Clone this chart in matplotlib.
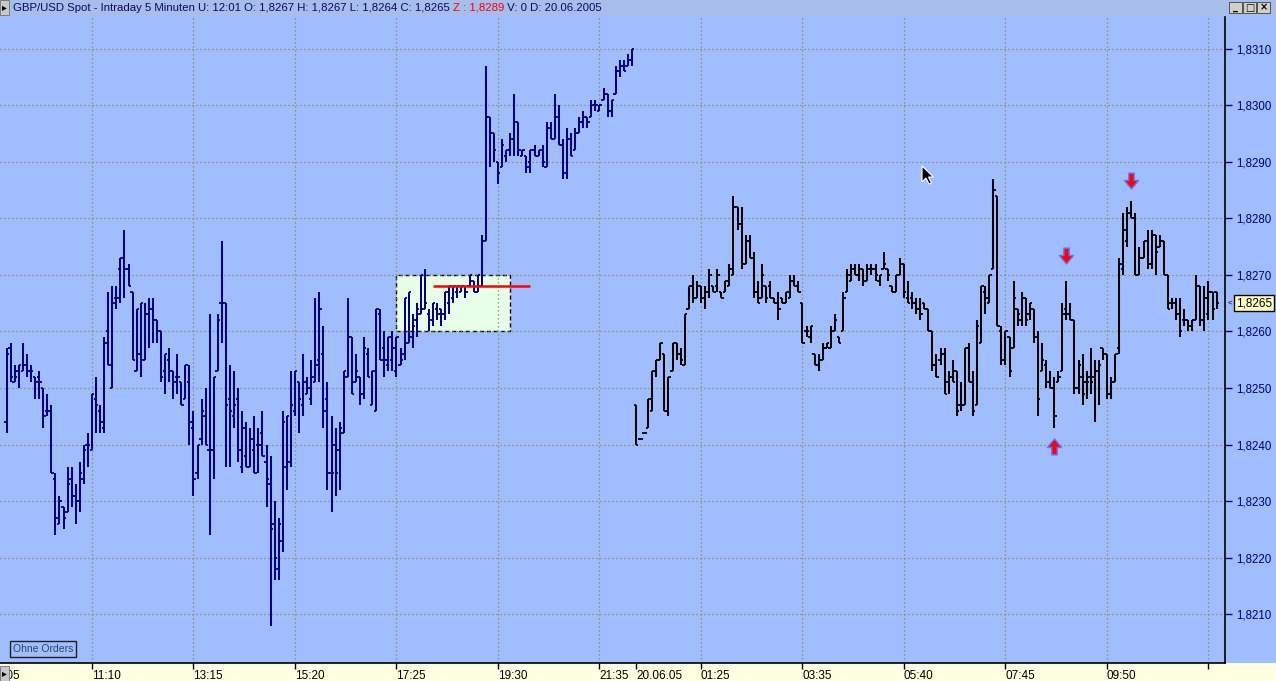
import numpy as np
import matplotlib
matplotlib.use("Agg")
import matplotlib.pyplot as plt
import matplotlib.transforms as mtransforms
from matplotlib.patches import Rectangle, Polygon
from matplotlib.path import Path

plt.rcParams['font.family'] = ['Liberation Sans', 'DejaVu Sans']

# prices are kept in pips above 1,8200
BASE = 1.8200
PIP = 0.0001

# Friday session (blue bars), 5 minute bars from 09:25
blue_high = [57, 58, 54, 54, 58, 56, 54, 52, 53, 50,
             49, 47, 35, 31, 29, 36, 36, 33, 37, 40,
             42, 49, 52, 47, 59, 67, 68, 68, 73, 78,
             72, 67, 64, 65, 65, 66, 66, 62, 60, 56,
             57, 53, 56, 51, 54, 54, 46, 40, 48, 50,
             63, 52, 63, 76, 65, 54, 53, 50, 46, 44,
             43, 45, 43, 46, 40, 38, 30, 27, 46, 45,
             53, 53, 51, 56, 52, 55, 66, 67, 61, 51,
             45, 43, 44, 53, 66, 59, 56, 52, 59, 57,
             53, 64, 64, 60, 59, 60, 59, 57, 66, 67,
             63, 65, 70, 71, 64, 65, 65, 64, 67, 68,
             68, 68, 68, 68, 70, 69, 70, 77, 107, 98,
             95, 90, 94, 92, 95, 102, 97, 92, 91, 92,
             93, 92, 93, 97, 97, 102, 100, 94, 96, 95,
             96, 98, 99, 98, 101, 101, 100, 103, 102, 101,
             107, 108, 108, 109, 110]
blue_low = [42, 51, 51, 50, 53, 52, 51, 48, 48, 43,
            45, 35, 24, 26, 25, 28, 29, 26, 28, 33,
            36, 39, 42, 42, 42, 54, 50, 64, 65, 66,
            68, 55, 53, 52, 55, 57, 58, 58, 51, 49,
            51, 48, 49, 47, 48, 40, 31, 34, 40, 40,
            24, 34, 53, 58, 36, 36, 43, 37, 35, 36,
            36, 35, 35, 38, 29, 8, 16, 16, 21, 32,
            36, 45, 42, 45, 49, 47, 51, 51, 43, 32,
            28, 31, 32, 42, 52, 49, 51, 47, 48, 52,
            47, 46, 55, 52, 53, 53, 52, 54, 55, 58,
            57, 59, 63, 64, 60, 61, 62, 61, 62, 63,
            65, 66, 67, 66, 68, 67, 67, 68, 76, 89,
            90, 86, 89, 90, 91, 91, 91, 91, 88, 88,
            91, 91, 89, 89, 94, 94, 93, 87, 87, 91,
            92, 95, 96, 96, 98, 99, 99, 101, 98, 98,
            102, 105, 106, 107, 107]
blue_open = [44, 57, 51, 53, 53, 54, 53, 52, 52, 50,
             46, 46, 34, 26, 29, 28, 34, 31, 30, 34,
             40, 39, 48, 46, 43, 60, 50, 66, 71, 73,
             71, 67, 53, 56, 55, 63, 64, 62, 60, 53,
             55, 53, 52, 51, 48, 51, 43, 35, 41, 45,
             39, 39, 53, 65, 65, 48, 45, 48, 36, 38,
             36, 39, 40, 42, 37, 33, 26, 18, 23, 36,
             37, 46, 51, 47, 49, 48, 51, 55, 56, 48,
             35, 40, 39, 42, 52, 59, 51, 52, 49, 56,
             47, 46, 63, 57, 54, 55, 53, 54, 56, 58,
             59, 62, 63, 64, 63, 62, 64, 64, 63, 65,
             66, 67, 67, 68, 68, 69, 67, 68, 76, 98,
             95, 90, 89, 91, 92, 94, 97, 91, 91, 90,
             92, 91, 92, 89, 96, 94, 98, 93, 88, 94,
             92, 95, 97, 98, 98, 100, 99, 101, 102, 99,
             102, 106, 107, 107, 108]
blue_close = [56, 52, 52, 54, 54, 53, 53, 51, 51, 45,
              46, 35, 27, 30, 27, 33, 31, 30, 35, 39,
              40, 49, 47, 44, 58, 54, 65, 66, 73, 71,
              68, 55, 64, 65, 63, 64, 62, 60, 52, 56,
              53, 51, 52, 47, 54, 44, 34, 40, 46, 40,
              39, 52, 62, 65, 47, 46, 47, 39, 43, 36,
              41, 35, 40, 38, 34, 25, 20, 26, 44, 45,
              47, 53, 48, 51, 50, 52, 54, 64, 46, 35,
              35, 35, 43, 53, 59, 49, 53, 49, 57, 52,
              53, 64, 55, 55, 59, 57, 59, 55, 66, 67,
              61, 64, 70, 65, 62, 65, 63, 63, 67, 68,
              68, 68, 68, 67, 70, 67, 70, 76, 98, 95,
              92, 88, 93, 92, 94, 97, 92, 92, 89, 92,
              91, 92, 90, 96, 94, 98, 93, 88, 94, 91,
              95, 97, 98, 97, 100, 100, 100, 102, 99, 101,
              106, 107, 106, 108, 110]

# Monday 20.06.2005 (black bars), from 00:05 to 12:00
black_high = [47, 41, 42, 48, 53, 55, 58, 56, 52, 58,
              58, 57, 63, 68, 70, 69, 68, 68, 71, 68,
              71, 67, 69, 72, 84, 82, 82, 77, 77, 74,
              69, 72, 68, 69, 66, 67, 66, 67,
              70, 70, 69, 65, 61, 61, 56, 56, 58, 58,
              61, 63, 59, 67, 71, 72, 72, 72, 71, 72,
              72, 72, 70, 74, 71, 68, 70, 73, 72, 69,
              67, 66, 66, 65, 64,
              60, 56, 57, 57, 53, 55, 53, 51, 57, 58,
              53, 62, 68, 68, 70, 87, 84, 61, 60, 59,
              69, 64, 67, 66, 65, 64, 60, 58, 55, 53,
              52, 53, 65, 69, 65, 62, 55, 56, 53, 57,
              55, 55, 57, 56, 52, 56, 73, 81, 82, 83,
              81, 75, 76, 78, 78, 77, 77, 76, 70, 66,
              66, 66, 64, 62, 62, 70, 68, 68, 69, 67, 67]
black_low = [40, 41, 42, 43, 46, 52, 55, 46, 45, 53,
             55, 54, 54, 64, 65, 66, 65, 64, 66, 67,
             67, 66, 67, 68, 70, 78, 71, 72, 73, 66,
             65, 66, 65, 66, 65, 62, 65, 65,
             66, 68, 67, 58, 59, 58, 54, 53, 55, 57,
             57, 60, 58, 60, 67, 69, 70, 69, 68, 69,
             70, 69, 68, 71, 69, 67, 67, 70, 66, 65,
             64, 63, 62, 64, 60,
             53, 52, 54, 49, 49, 51, 45, 46, 47, 51,
             45, 47, 58, 63, 65, 71, 61, 54, 54, 52,
             57, 61, 61, 61, 62, 58, 45, 53, 50, 50,
             43, 51, 53, 62, 62, 49, 49, 47, 48, 49,
             44, 47, 55, 48, 48, 51, 56, 70, 75, 80,
             70, 70, 73, 71, 71, 70, 75, 70, 64, 64,
             62, 59, 61, 60, 60, 62, 61, 60, 62, 62, 64]
black_open = [47, 41, 42, 43, 46, 53, 55, 56, 46, 53,
              58, 56, 54, 64, 68, 66, 68, 66, 67, 68,
              68, 67, 67, 68, 70, 82, 79, 72, 76, 73,
              67, 66, 68, 68, 66, 65, 66, 65,
              66, 69, 68, 65, 60, 59, 56, 54, 55, 57,
              57, 60, 59, 60, 67, 69, 71, 70, 71, 69,
              71, 71, 69, 71, 71, 68, 67, 70, 72, 66,
              66, 65, 64, 65, 64,
              60, 54, 55, 56, 51, 52, 53, 47, 47, 57,
              51, 47, 58, 67, 65, 71, 84, 60, 55, 59,
              57, 64, 62, 66, 63, 64, 59, 53, 54, 51,
              50, 51, 53, 64, 63, 62, 50, 52, 51, 52,
              52, 53, 57, 56, 49, 51, 57, 71, 76, 81,
              80, 70, 73, 76, 72, 77, 75, 76, 70, 65,
              65, 63, 62, 62, 61, 62, 68, 62, 63, 67, 67]
black_close = [40, 41, 42, 48, 53, 55, 58, 46, 52, 58,
               56, 55, 63, 68, 66, 68, 66, 67, 70, 67,
               70, 66, 69, 71, 82, 79, 72, 76, 73, 67,
               65, 70, 66, 66, 65, 64, 65, 67,
               69, 68, 67, 58, 60, 61, 54, 55, 57, 58,
               60, 62, 58, 66, 70, 71, 70, 71, 69, 71,
               71, 70, 70, 72, 70, 67, 70, 72, 67, 65,
               65, 64, 63, 64, 60,
               54, 52, 56, 49, 52, 51, 46, 47, 57, 51,
               46, 61, 68, 66, 70, 85, 61, 55, 60, 53,
               66, 63, 66, 62, 65, 59, 48, 55, 51, 50,
               45, 52, 63, 63, 62, 50, 54, 49, 51, 51,
               53, 54, 56, 49, 51, 56, 72, 78, 81, 80,
               70, 73, 76, 72, 77, 74, 76, 70, 64, 65,
               63, 60, 62, 61, 62, 68, 62, 66, 67, 64, 65]

# time axis (bar index -> label)
time_ticks = [21, 46, 71, 96, 121, 146, 171, 196, 221, 246, 271, 296]
time_labels = ["11:10", "13:15", "15:20", "17:25", "19:30", "21:35",
               "01:25", "03:35", "05:40", "07:45", "09:50", ""]
first_label_pos = -4
first_label = "09:05"
date_tick = 155
date_label = "20.06.05"

price_ticks = [1.8210, 1.8220, 1.8230, 1.8240, 1.8250, 1.8260,
               1.8270, 1.8280, 1.8290, 1.8300, 1.8310]
last_price = 1.8265

# marked range and level
box_start, box_end = 96, 124
box_low, box_high = 1.8260, 1.8270
level_start, level_end = 105, 129
level_price = 1.8268

# signal arrows
arrow_up_idx = [258]
arrow_up_price = [1.82397]
arrow_down_idx = [261, 277]
arrow_down_price = [1.82733, 1.82866]

title_main = "GBP/USD Spot - Intraday 5 Minuten U: 12:01 O: 1,8267 H: 1,8267 L: 1,8264 C: 1,8265 "
title_red = "Z : 1,8289"
title_tail = " V: 0 D: 20.06.2005"

W, H = 1276, 681
BG = '#A0BEFE'
NAVY = '#000080'

fig = plt.figure(figsize=(W / 100, H / 100), dpi=100, facecolor=BG)
ax = fig.add_axes([0, 18 / H, 1225 / W, 646 / H])
ax.set_facecolor(BG)
ax.set_axisbelow(True)


def px(v):
    return np.array(v) * PIP + BASE


def draw_bars(x, o, h, l, c, color):
    ax.vlines(x, px(l), px(h), color=color, lw=1.45, zorder=3)
    ax.hlines(px(o), x - 0.6, x, color=color, lw=1.3, zorder=3)
    ax.hlines(px(c), x, x + 0.6, color=color, lw=1.3, zorder=3)


nb = len(blue_high)
xb = np.arange(nb)
xk = np.arange(len(black_high)) + nb

ax.add_patch(Rectangle((box_start, box_low), box_end - box_start, box_high - box_low,
                       fc='#E6FFE6', ec='black', lw=1.0, ls=(0, (3, 2)), zorder=0.3))

draw_bars(xb, blue_open, blue_high, blue_low, blue_close, NAVY)
draw_bars(xk, black_open, black_high, black_low, black_close, 'black')

ax.hlines(level_price, level_start, level_end, color='#FF0000', lw=1.8, zorder=4)

down_verts = [(-0.32, 1.0), (0.32, 1.0), (0.32, 0.12), (0.85, 0.12), (0.0, -0.9),
              (-0.85, 0.12), (-0.32, 0.12), (-0.32, 1.0)]
down_marker = Path(down_verts, closed=True)
up_marker = Path([(x, -y) for x, y in down_verts], closed=True)
ax.plot(arrow_down_idx, arrow_down_price, ls='none', marker=down_marker, ms=12,
        mfc='#FF0000', mec='#6E6EFF', mew=1.0, zorder=5)
ax.plot(arrow_up_idx, arrow_up_price, ls='none', marker=up_marker, ms=12,
        mfc='#FF0000', mec='#6E6EFF', mew=1.0, zorder=5)

ax.set_xlim(-1.65, 300.07)
ax.set_ylim(1.820139, 1.831559)

# axes, ticks, grid
ax.set_xticks(time_ticks)
ax.set_xticklabels(time_labels)
ax.set_xticks([date_tick], minor=True)
ax.set_xticklabels([date_label], minor=True)
ax.tick_params(axis='x', which='both', direction='out', length=4.5, width=1,
               pad=0.5, labelsize=8.5, color='black', labelcolor='black')
for lab in ax.get_xticklabels(which='both'):
    lab.set_horizontalalignment('left')
ax.annotate(first_label, xy=(first_label_pos, 0), xycoords=('data', 'axes fraction'),
            xytext=(0, -5.0), textcoords='offset points', ha='left', va='top',
            fontsize=8.5, annotation_clip=False)

ax.yaxis.tick_right()
ax.set_yticks(price_ticks)
ax.set_yticklabels([("%.4f" % p).replace('.', ',') for p in price_ticks])
ax.tick_params(axis='y', direction='out', length=5, width=1, pad=3,
               labelsize=8.3, color=NAVY, labelcolor=NAVY)

ax.grid(True, which='major', color='#877d68', linestyle=(0, (1, 2.2)), lw=0.9)
for s in ['left', 'top']:
    ax.spines[s].set_visible(False)
ax.spines['right'].set_color('black')
ax.spines['bottom'].set_color('black')
ax.spines['right'].set_linewidth(1.2)
ax.spines['bottom'].set_linewidth(1.2)

# last price box
blend = mtransforms.blended_transform_factory(ax.transAxes, ax.transData)
ax.text(1236 / 1225, last_price, ("%.4f" % last_price).replace('.', ','), transform=blend,
        ha='left', va='center', fontsize=8.5, color='black', clip_on=False,
        bbox=dict(boxstyle='square,pad=0.18', fc='#FFFFC4', ec='black', lw=1.0))
ax.text(1227.5 / 1225, last_price, "<", transform=blend, ha='left', va='center',
        fontsize=5.5, color='black', clip_on=False)

# bottom strip and title bar
fig.patches.append(Rectangle((0, 0), 1, 18 / H, transform=fig.transFigure,
                             fc='#FFFFE1', ec='none', zorder=-1))
fig.patches.append(Rectangle((0, 1 - 16 / H), 1, 16 / H, transform=fig.transFigure,
                             fc='#A7BDEB', ec='none', zorder=-1))
for yb in [1 - 15 / H, 0]:
    fig.patches.append(Rectangle((0, yb), 9 / W, 15 / H, transform=fig.transFigure,
                                 fc='#C8C8C8', ec='#707070', lw=0.6, zorder=2))
    fig.text(4.5 / W, yb + 7.5 / H, "\u25b8", fontsize=7, ha='center', va='center',
             color='black', family='DejaVu Sans', zorder=3)

# window buttons
for i, g in enumerate(["_", "\u25a1", "\u00d7"]):
    x0 = 1229 + i * 14
    fig.patches.append(Rectangle((x0 / W, 1 - 13 / H), 13 / W, 11 / H, transform=fig.transFigure,
                                 fc='#D4D0C8', ec='#404040', lw=0.6, zorder=2))
    fig.text((x0 + 6.5) / W, 1 - 7.5 / H, g, fontsize=7, ha='center', va='center',
             color='black', family='DejaVu Sans', zorder=3, fontweight='bold')

# title, with the red Z part
fig.canvas.draw()
rend = fig.canvas.get_renderer()
xpos = 13
for txt, col in [(title_main, '#0A0A60'), (title_red, '#FF0000'), (title_tail, '#0A0A60')]:
    t = fig.text(xpos / W, 1 - 8 / H, txt, fontsize=8.2, color=col, ha='left', va='center')
    bb = t.get_window_extent(rend)
    xpos = bb.x1

# order mode box
fig.text(13 / W, 1 - 649 / H, "Ohne Orders", fontsize=7.5, color='#27476a',
         ha='left', va='center',
         bbox=dict(boxstyle='square,pad=0.25', fc=BG, ec='#202020', lw=1.0))

# mouse pointer
tip_x, tip_y = 922, H - 166
cur = [(0, 0), (0, -16), (4, -12), (7, -18), (9.5, -17), (6.5, -11), (11.5, -11)]
fig.patches.append(Polygon([(tip_x + a, tip_y + b) for a, b in cur], closed=True,
                           transform=mtransforms.IdentityTransform(),
                           fc='black', ec='white', lw=0.8, zorder=6))

fig.savefig("out.png", dpi=100, facecolor=BG)
